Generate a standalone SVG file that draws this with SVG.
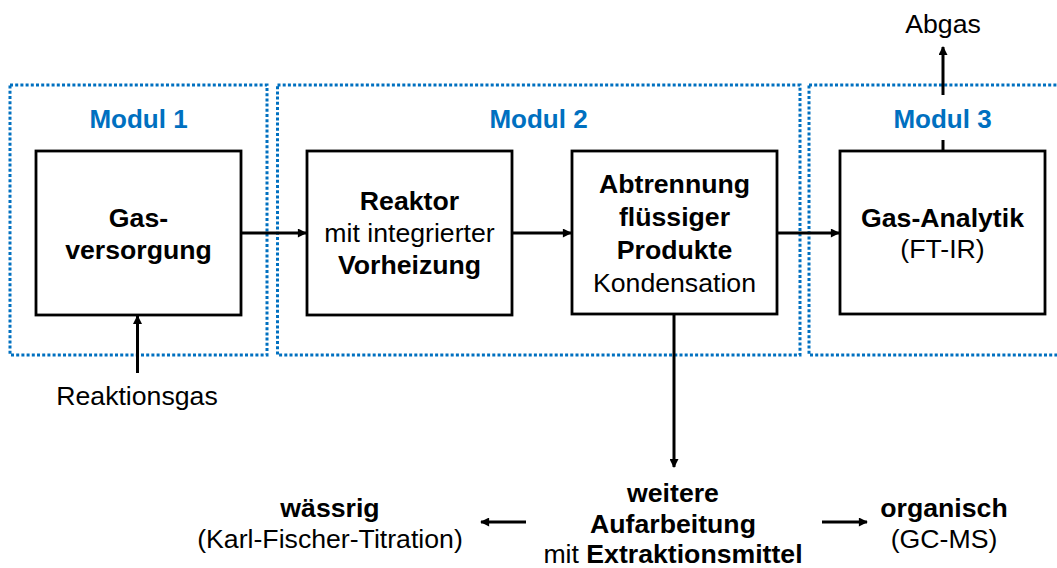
<svg xmlns="http://www.w3.org/2000/svg" width="1057" height="568" viewBox="0 0 1057 568">
<style>
.mod{fill:none;stroke:#0070C0;stroke-width:3;stroke-dasharray:3 2.2}
.box{fill:#fff;stroke:#000;stroke-width:2.8}
text{font-family:"Liberation Sans",Arial,sans-serif;font-size:26.67px;fill:#000;text-anchor:middle}
.b{font-weight:bold}
.mt{font-weight:bold;fill:#0070C0;font-size:26px}
.c{fill:none;stroke:#000;stroke-width:3}
</style>
<defs>
<marker id="ah" viewBox="0 0 10 10" refX="9" refY="5" markerWidth="10" markerHeight="9" markerUnits="userSpaceOnUse" orient="auto">
<path d="M0,0 L10,5 L0,10 Z" fill="#000"/>
</marker>
</defs>
<rect width="1057" height="568" fill="#fff"/>
<g id="modules">
<g id="modul1"><rect class="mod" x="10" y="85" width="257" height="270"/><text class="mt" x="138.5" y="128">Modul 1</text></g>
<g id="modul2"><rect class="mod" x="277.5" y="85" width="522.5" height="270"/><text class="mt" x="538.5" y="128">Modul 2</text></g>
<g id="modul3"><rect class="mod" x="809" y="85" width="270" height="270"/><text class="mt" x="942.5" y="128">Modul 3</text></g>
</g>
<g id="connectors">
<path class="c" d="M241,233 H306" marker-end="url(#ah)"/>
<path class="c" d="M512,233 H571" marker-end="url(#ah)"/>
<path class="c" d="M777,233 H839" marker-end="url(#ah)"/>
<path class="c" d="M137.5,373 V316" marker-end="url(#ah)"/>
<path class="c" d="M943,151 V140"/>
<path class="c" d="M943,95 V47" marker-end="url(#ah)"/>
<path class="c" d="M674,314 V467" marker-end="url(#ah)"/>
<path class="c" d="M526,522 H481" marker-end="url(#ah)"/>
<path class="c" d="M822,522 H867" marker-end="url(#ah)"/>
</g>
<g id="gasversorgung"><rect class="box" x="36" y="151" width="205" height="164"/>
<text class="b" x="138.5" y="227">Gas-</text><text class="b" x="138.5" y="259">versorgung</text></g>
<g id="reaktor"><rect class="box" x="307" y="151" width="205" height="164"/>
<text class="b" x="409.5" y="210">Reaktor</text><text x="409.5" y="242">mit integrierter</text><text class="b" x="409.5" y="274">Vorheizung</text></g>
<g id="abtrennung"><rect class="box" x="572" y="151" width="205" height="163"/>
<text class="b" x="674.5" y="193">Abtrennung</text><text class="b" x="674.5" y="226">flüssiger</text><text class="b" x="674.5" y="259">Produkte</text><text x="674.5" y="292">Kondensation</text></g>
<g id="gasanalytik"><rect class="box" x="840" y="151" width="205" height="163"/>
<text class="b" x="942.5" y="227">Gas-Analytik</text><text x="942.5" y="258">(FT-IR)</text></g>
<g id="reaktionsgas"><text x="137" y="405">Reaktionsgas</text></g>
<g id="abgas"><text x="943" y="33">Abgas</text></g>
<g id="aufarbeitung"><text class="b" x="673" y="502">weitere</text><text class="b" x="673" y="533">Aufarbeitung</text><text x="673" y="563">mit <tspan class="b">Extraktionsmittel</tspan></text></g>
<g id="waessrig"><text class="b" x="330" y="517">wässrig</text><text x="330" y="548">(Karl-Fischer-Titration)</text></g>
<g id="organisch"><text class="b" x="944" y="517">organisch</text><text x="944" y="548">(GC-MS)</text></g>
</svg>
